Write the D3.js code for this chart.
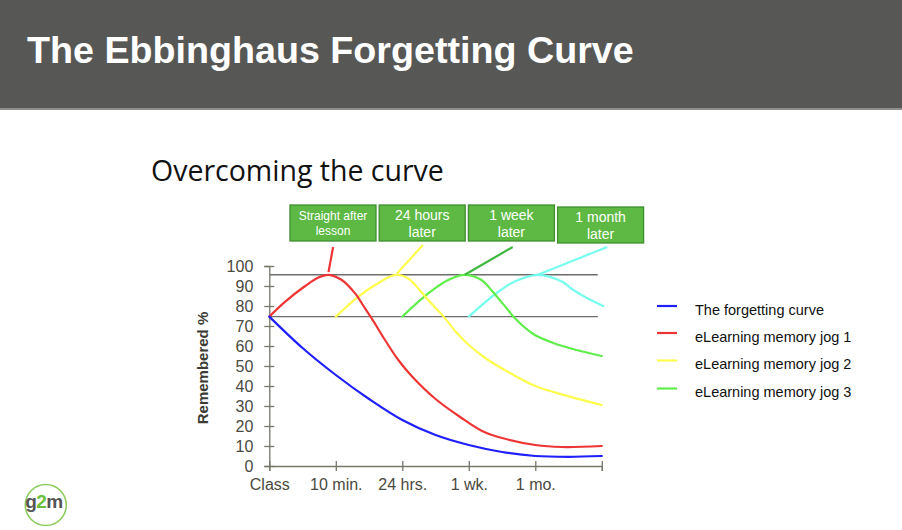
<!DOCTYPE html>
<html>
<head>
<meta charset="utf-8">
<script src="https://cdn.jsdelivr.net/npm/d3@7"></script>
<style>
html,body{margin:0;padding:0;background:#fff;}
svg{display:block;}
</style>
</head>
<body>
<svg id="chart" width="902" height="530"></svg>
<script>
// ---------- data ----------
const titleText = "The Ebbinghaus Forgetting Curve";
const subtitleText = "Overcoming the curve";
const xTickLabels = ["Class", "10 min.", "24 hrs.", "1 wk.", "1 mo.", ""];
const xTickValues = [0, 1, 2, 3, 4, 5];
const yTickValues = [0, 10, 20, 30, 40, 50, 60, 70, 80, 90, 100];
const yAxisTitle = "Remembered %";
const referenceLevels = [95.6, 74.7];

const forgettingCurve = [[0,74.7],[0.5,59],[1,45.5],[1.5,33.5],[2,23],[2.5,15.5],[3,10.5],[3.5,7],[4,5],[4.5,4.6],[5,5]];
const jog1 = [[0,74.7],[0.24,82.2],[0.54,90],[0.74,94.3],[0.89,95.6],[1.09,93],[1.29,86.3],[1.44,78.8],[1.54,73.8],[1.74,63],[1.94,53],[2.14,45],[2.5,33.5],[2.87,24.5],[3.2,17.5],[3.5,14],[4,10.5],[4.4,9.5],[5,10]];
const jog2 = [[1,74.7],[1.34,84.7],[1.64,91.5],[1.9,95.6],[2.1,93.5],[2.26,88],[2.41,82.2],[2.62,74.7],[2.82,66.5],[3,60.5],[3.27,53.5],[3.62,46.5],[4.02,39.7],[4.52,34.7],[5,30.5]];
const jog3 = [[2,74.7],[2.39,86.3],[2.69,93],[2.94,95.6],[3.19,93],[3.35,87.5],[3.59,78],[3.69,74],[3.97,66],[4.27,61.5],[4.62,58],[5,55]];
const jog4 = [[3,74.7],[3.4,86],[3.69,92.2],[4.04,95.6],[4.4,92.2],[4.55,88.5],[4.75,84.5],[5.02,80]];

const pointer1 = [[0.89,97],[0.96,109.5]];
const pointer2 = [[1.92,96.3],[2.31,110.5]];
const pointer3 = [[2.94,95.6],[3.66,109.5]];
const pointer4 = [[4.04,95.6],[5.08,109.5]];

const boxLabels = [["Straight after","lesson"],["24 hours","later"],["1 week","later"],["1 month","later"]];
const legendLabels = ["The forgetting curve","eLearning memory jog 1","eLearning memory jog 2","eLearning memory jog 3"];
const legendColors = ["#1f1fff","#ee3535","#ffff4d","#5fee4a"];
const logoParts = ["g","2","m"];

// ---------- drawing ----------
const svg = d3.select("#chart");

// header
svg.append("rect").attr("x",0).attr("y",0).attr("width",902).attr("height",110).attr("fill","#575856");
svg.append("rect").attr("x",0).attr("y",108).attr("width",902).attr("height",2).attr("fill","#8e8f8c");

function fitText(sel, w){
  const len = sel.node().getComputedTextLength();
  const fs = parseFloat(sel.attr("font-size"));
  sel.attr("font-size", fs * w / len);
}

const title = svg.append("text").attr("x",27).attr("y",63)
  .attr("font-family","Liberation Sans, Arial, sans-serif").attr("font-weight","bold")
  .attr("font-size",34).attr("fill","#fff").text(titleText);
fitText(title, 607);

const sub = svg.append("text").attr("x",151).attr("y",181)
  .attr("font-family","Open Sans, sans-serif").attr("font-size",28).attr("fill","#111").text(subtitleText);
fitText(sub, 293);

const x = d3.scaleLinear().domain([0,5]).range([269.3, 601.8]);
const y = d3.scaleLinear().domain([0,100]).range([466, 266]);

const axisColor = "#77776a";
const labelColor = "#4a4a40";
const font = "Liberation Sans, Arial, sans-serif";

// reference lines
svg.append("g").selectAll("line").data(referenceLevels).join("line")
  .attr("x1", x(0)).attr("x2", x(4.94))
  .attr("y1", d => y(d)).attr("y2", d => y(d))
  .attr("stroke","#6d6d6d").attr("stroke-width",1.4);

// axes
const xAxis = svg.append("g").attr("transform",`translate(0,${y(0)})`)
  .call(d3.axisBottom(x).tickValues(xTickValues).tickSize(5).tickPadding(8)
    .tickFormat((d,i) => xTickLabels[i]));
xAxis.selectAll(".tick line").attr("y1",-5);
const yAxis = svg.append("g").attr("transform",`translate(${x(0)},0)`)
  .call(d3.axisLeft(y).tickValues(yTickValues).tickSize(5).tickPadding(11));
yAxis.selectAll(".tick line").attr("x1",5);
[xAxis,yAxis].forEach(g => {
  g.select(".domain").attr("stroke",axisColor).attr("stroke-width",1.3);
  g.selectAll(".tick line").attr("stroke",axisColor).attr("stroke-width",1.3);
  g.selectAll(".tick text").attr("font-family",font).attr("font-size",16).attr("fill",labelColor);
});

svg.append("text").attr("transform",`translate(208,368) rotate(-90)`)
  .attr("text-anchor","middle").attr("font-family",font).attr("font-weight","bold")
  .attr("font-size",15).attr("fill","#3c3c34").text(yAxisTitle);

// curves
const line = d3.line().x(d => x(d[0])).y(d => y(d[1])).curve(d3.curveCatmullRom.alpha(0.5));
const straight = d3.line().x(d => x(d[0])).y(d => y(d[1]));
const curves = [
  [jog4, "#77ffee"],
  [jog3, "#5fee4a"],
  [jog2, "#ffff4d"],
  [jog1, "#ee3535"],
  [forgettingCurve, "#1f1fff"]
];
svg.append("g").selectAll("path").data(curves).join("path")
  .attr("d", d => line(d[0])).attr("fill","none")
  .attr("stroke", d => d[1]).attr("stroke-width",2.2).attr("stroke-linecap","round");

const pointers = [[pointer1,"#ee3535"],[pointer2,"#ffff4d"],[pointer3,"#3fb83f"],[pointer4,"#77ffee"]];
svg.append("g").selectAll("path").data(pointers).join("path")
  .attr("d", d => straight(d[0])).attr("fill","none")
  .attr("stroke", d => d[1]).attr("stroke-width",2.2);

// label boxes
const boxW = 86, boxH = 36;
const boxX = i => 290 + i*89.2;
const boxY = i => i === 3 ? 207 : 205;
const bg = svg.append("g").selectAll("g").data(boxLabels).join("g")
  .attr("transform",(d,i) => `translate(${boxX(i)},${boxY(i)})`);
bg.append("rect").attr("width",boxW).attr("height",boxH)
  .attr("fill","#5db943").attr("stroke","#3f8e2e").attr("stroke-width",1.3);
bg.each(function(d,i){
  const g = d3.select(this);
  const fs = i === 0 ? 12 : 14;
  const y1 = i === 0 ? 15 : 14.5;
  const y2 = i === 0 ? 30 : 31.5;
  g.append("text").attr("x",boxW/2).attr("y",y1).attr("text-anchor","middle")
    .attr("font-family",font).attr("font-size",fs).attr("fill","#fff").text(d[0]);
  g.append("text").attr("x",boxW/2).attr("y",y2).attr("text-anchor","middle")
    .attr("font-family",font).attr("font-size",fs).attr("fill","#fff").text(d[1]);
});

// legend
const legendY = [306, 333, 360.5, 388.5];
const lg = svg.append("g").selectAll("g").data(legendLabels).join("g")
  .attr("transform",(d,i) => `translate(657,${legendY[i]})`);
lg.append("line").attr("x1",0).attr("x2",20).attr("y1",0).attr("y2",0)
  .attr("stroke",(d,i) => legendColors[i]).attr("stroke-width",2.2);
lg.append("text").attr("x",38).attr("y",8.5).attr("font-family",font).attr("font-size",14.5)
  .attr("fill","#111").text(d => d);

// logo
const logo = svg.append("g").attr("transform","translate(45.8,505)");
logo.append("circle").attr("r",20.5).attr("fill","none").attr("stroke","#8ccc5c").attr("stroke-width",1.6);
let lx = -20.5;
logoParts.forEach((p,i) => {
  const t = logo.append("text").attr("x",lx).attr("y",3)
    .attr("font-family",font).attr("font-weight","bold").attr("font-size",19)
    .attr("fill", i === 1 ? "#6abf3a" : "#555").text(p);
  lx += t.node().getComputedTextLength() - 0.6;
});
</script>
</body>
</html>
